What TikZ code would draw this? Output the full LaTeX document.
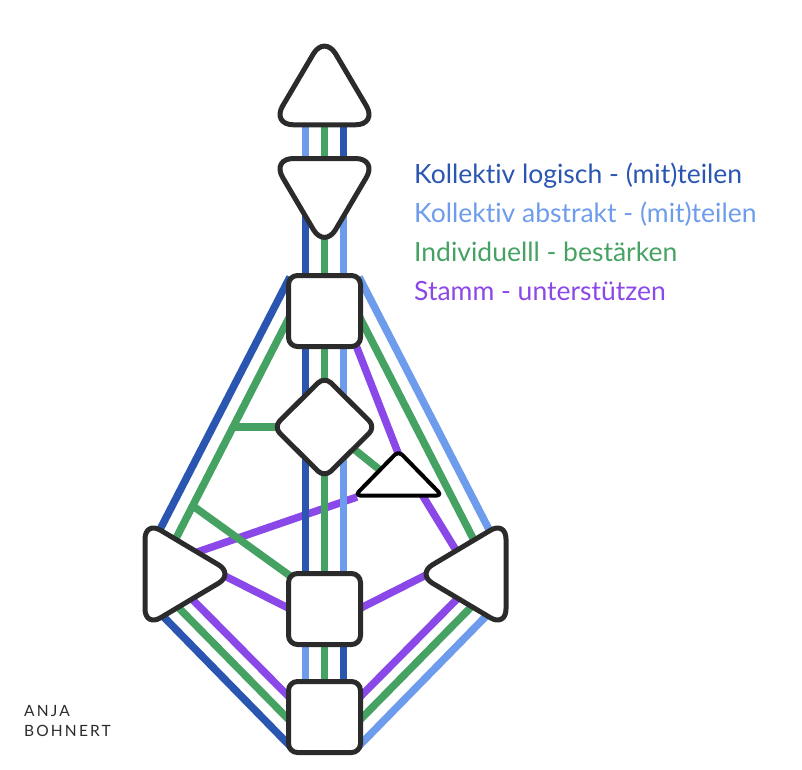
\documentclass[tikz,border=0pt]{standalone}
\usepackage{fontspec}
\setmainfont{Lato}[Ligatures={NoCommon}]
\newfontfamily\logofont{Lato}[LetterSpace=14, Ligatures={NoCommon}]
\definecolor{cdblue}{HTML}{2A56B2}
\definecolor{clblue}{HTML}{6E9CEC}
\definecolor{cgreen}{HTML}{45A262}
\definecolor{cpurple}{HTML}{8B48E8}
\definecolor{cstroke}{HTML}{2B2B2B}
\tikzset{
  chan/.style={line width=7.5pt, line cap=butt},
  pu/.style={chan, cpurple},
  gr/.style={chan, cgreen},
  lb/.style={chan, clblue},
  db/.style={chan, cdblue},
  center/.style={draw=cstroke, fill=white, line width=5pt, rounded corners=9pt, line join=round},
  tri/.style={center, rounded corners=22pt},
  egostyle/.style={draw=black, fill=white, line width=4pt, rounded corners=5pt, line join=round},
  legend/.style={anchor=base west, inner sep=0pt, font=\fontsize{26.5}{30}\selectfont},
  logo/.style={anchor=base west, inner sep=0pt, text=cstroke, font=\logofont\fontsize{15.5}{17}\selectfont},
}
\begin{document}
\begin{tikzpicture}[x=1pt, y=-1pt]
\useasboundingbox (0,0) rectangle (802,769);
% purple channels
\draw[pu] (180,558) -- (357,497);
\draw[pu] (215,571) -- (300,614);
\draw[pu] (185,592) -- (295,703);
\draw[pu] (352,335) -- (400,458);
\draw[pu] (402,462) -- (462,560);
\draw[pu] (434,571) -- (349,614);
\draw[pu] (464,592) -- (354,703);
% green channels
\draw[gr] (292,312) -- (170,550);
\draw[gr] (324.5,427) -- (232,427);
\draw[gr] (193,506) -- (300,583);
\draw[gr] (170,599) -- (295,726);
\draw[gr] (357,312) -- (479,550);
\draw[gr] (340,438) -- (385,474);
\draw[gr] (479,599) -- (354,726);
\draw[gr] (324.5,120) -- (324.5,165);
\draw[gr] (324.5,200) -- (324.5,280);
\draw[gr] (324.5,340) -- (324.5,580);
\draw[gr] (324.5,640) -- (324.5,686);
% light blue channels
\draw[lb] (305.5,120) -- (305.5,165);
\draw[lb] (343.5,200) -- (343.5,280);
\draw[lb] (343.5,340) -- (343.5,580);
\draw[lb] (305.5,640) -- (305.5,686);
\draw[lb] (359,277) -- (497,545);
\draw[lb] (494,608) -- (356,749);
% dark blue channels
\draw[db] (343.5,120) -- (343.5,165);
\draw[db] (305.5,200) -- (305.5,280);
\draw[db] (305.5,340) -- (305.5,580);
\draw[db] (343.5,640) -- (343.5,686);
\draw[db] (290,277) -- (152,545);
\draw[db] (155,608) -- (293,749);
% centres
\draw[tri] (324.5,35) -- (377.5,124.8) -- (271.5,124.8) -- cycle;
\draw[tri] (271.5,158.5) -- (377.5,158.5) -- (324.5,248.5) -- cycle;
\draw[center] (288.5,275.5) rectangle (360.5,346.5);
\draw[center] (324.5,376.5) -- (375.5,427) -- (324.5,477.5) -- (273.5,427) -- cycle;
\draw[center] (288.5,573.5) rectangle (360.5,644.5);
\draw[center] (288.5,681.5) rectangle (360.5,752.5);
\draw[tri, rounded corners=18pt] (145,521) -- (234,574) -- (145,627) -- cycle;
\draw[tri, rounded corners=18pt] (506,521) -- (417,574) -- (506,627) -- cycle;
\draw[egostyle] (398.5,451) -- (442,495.5) -- (355,495.5) -- cycle;
% legend
\node[legend, text=cdblue] (l1) at (414,183) {Kollektiv logisch - (mit)teilen};
\node[legend, text=clblue] (l2) at (414,222) {Kollektiv abstrakt - (mit)teilen};
\node[legend, text=cgreen] (l3) at (414,261) {Individuelll - bestärken};
\node[legend, text=cpurple] (l4) at (414,300) {Stamm - unterstützen};
% logo
\node[logo] (lg1) at (24,716.5) {ANJA};
\node[logo] (lg2) at (24,736.5) {BOHNERT};
\end{tikzpicture}
\end{document}
